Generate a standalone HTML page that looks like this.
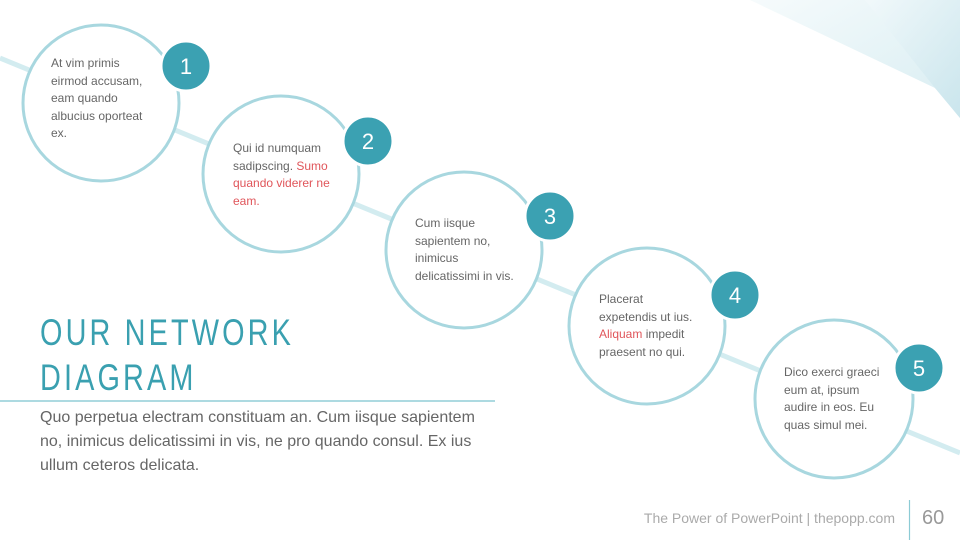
<!DOCTYPE html>
<html><head><meta charset="utf-8"><style>
html,body{margin:0;padding:0;background:#fff;}
body{width:960px;height:540px;overflow:hidden;position:relative;font-family:"Liberation Sans",sans-serif;}
svg{position:absolute;left:0;top:0;}
.t{position:absolute;font-size:12px;line-height:17.5px;color:#666;}
.r{color:#e0555a;}
</style></head><body>
<svg width="960" height="540" viewBox="0 0 960 540">
<defs>
<linearGradient id="g1" x1="0" y1="0" x2="1" y2="1">
<stop offset="0" stop-color="#f2f9fb"/><stop offset="1" stop-color="#c6e3eb"/>
</linearGradient>
<linearGradient id="g2" x1="0" y1="0" x2="1" y2="1">
<stop offset="0" stop-color="#f6fbfc"/><stop offset="1" stop-color="#d8edf2"/>
</linearGradient>
</defs>
<polygon points="750,0 960,0 960,118 935,88" fill="url(#g2)"/>
<polygon points="865,0 960,0 960,118 935,88" fill="url(#g1)" opacity="0.8"/>
<line x1="0" y1="58" x2="960" y2="453" stroke="#d3ecf0" stroke-width="5"/>
<g fill="#fff" stroke="#a8d7df" stroke-width="3">
<circle cx="101" cy="103" r="78"/>
<circle cx="281" cy="174" r="78"/>
<circle cx="464" cy="250" r="78"/>
<circle cx="647" cy="326" r="78"/>
<circle cx="834" cy="399" r="79"/>
</g>
<g fill="#3ba1b2" stroke="#fff" stroke-width="3">
<circle cx="186" cy="66" r="25"/>
<circle cx="368" cy="141" r="25"/>
<circle cx="550" cy="216" r="25"/>
<circle cx="735" cy="295" r="25"/>
<circle cx="919" cy="368" r="25"/>
</g>
<g fill="#fff" font-family="Liberation Sans, sans-serif" font-size="22" text-anchor="middle">
<text x="186" y="74">1</text>
<text x="368" y="149">2</text>
<text x="550" y="224">3</text>
<text x="735" y="303">4</text>
<text x="919" y="376">5</text>
</g>
<line x1="0" y1="401" x2="495" y2="401" stroke="#7cc3cf" stroke-width="1.2"/>
<line x1="909.5" y1="500" x2="909.5" y2="540" stroke="#8ccbd5" stroke-width="1.2"/>
</svg>
<div class="t" style="left:51px;top:55px;">At vim primis<br>eirmod accusam,<br>eam quando<br>albucius oporteat<br>ex.</div>
<div class="t" style="left:233px;top:140px;">Qui id numquam<br>sadipscing. <span class="r">Sumo<br>quando viderer ne<br>eam.</span></div>
<div class="t" style="left:415px;top:215px;">Cum iisque<br>sapientem no,<br>inimicus<br>delicatissimi in vis.</div>
<div class="t" style="left:599px;top:291px;">Placerat<br>expetendis ut ius.<br><span class="r">Aliquam</span> impedit<br>praesent no qui.</div>
<div class="t" style="left:784px;top:364px;">Dico exerci graeci<br>eum at, ipsum<br>audire in eos. Eu<br>quas simul mei.</div>
<div style="position:absolute;left:40px;top:310px;font-size:37px;line-height:45px;letter-spacing:4px;color:#3aa0b0;white-space:nowrap;transform:scaleX(0.78);transform-origin:0 0;">OUR NETWORK<br>DIAGRAM</div>
<div style="position:absolute;left:40px;top:406px;font-size:16px;line-height:24px;color:#666;">Quo perpetua electram constituam an. Cum iisque sapientem<br>no, inimicus delicatissimi in vis, ne pro quando consul. Ex ius<br>ullum ceteros delicata.</div>
<div style="position:absolute;right:65px;top:510px;font-size:14px;color:#aaa;">The Power of PowerPoint | thepopp.com</div>
<div style="position:absolute;left:922px;top:507px;font-size:20px;color:#999;">60</div>
</body></html>
